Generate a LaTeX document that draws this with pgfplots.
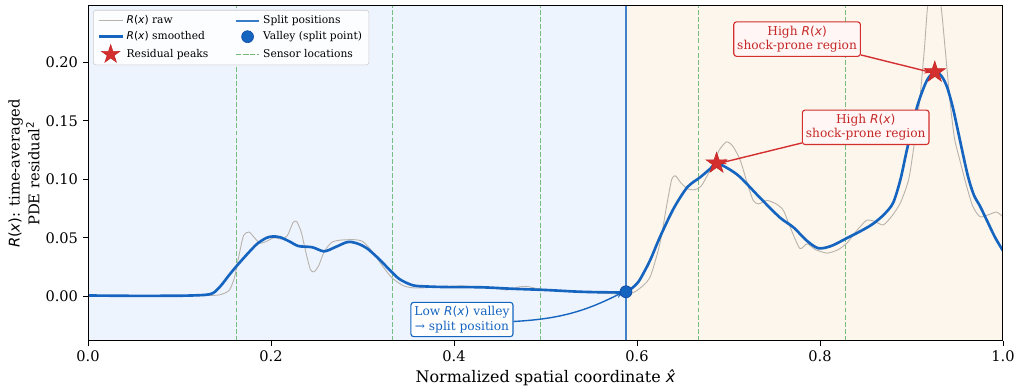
\documentclass[border=0pt]{standalone}
\usepackage{fontspec}
\setmainfont{DejaVu Serif}
\newfontfamily\dvs{DejaVu Sans}
\usepackage{pgfplots}
\pgfplotsset{compat=1.18}
\usetikzlibrary{arrows.meta}
\definecolor{blueS}{HTML}{1565C0}
\definecolor{blueD}{HTML}{0D47A1}
\definecolor{redS}{HTML}{D32F2F}
\definecolor{redT}{HTML}{C62828}
\definecolor{rawgray}{HTML}{B8B2AC}
\definecolor{sensorg}{HTML}{5AAE61}
\definecolor{bgL}{HTML}{EEF4FD}
\definecolor{bgR}{HTML}{FDF6EC}
\definecolor{boxR}{HTML}{FFF6F5}
\newcommand\mi[1]{{\dvs\itshape #1}}
\newcommand\Rx{\mi{R}{\dvs(}\mi{x}{\dvs)}}
\pgfdeclareplotmark{fstar}{%
 \pgfpathmoveto{\pgfpointpolar{90}{\pgfplotmarksize}}%
 \pgfpathlineto{\pgfpointpolar{126}{0.382\pgfplotmarksize}}%
 \pgfpathlineto{\pgfpointpolar{162}{\pgfplotmarksize}}%
 \pgfpathlineto{\pgfpointpolar{198}{0.382\pgfplotmarksize}}%
 \pgfpathlineto{\pgfpointpolar{234}{\pgfplotmarksize}}%
 \pgfpathlineto{\pgfpointpolar{270}{0.382\pgfplotmarksize}}%
 \pgfpathlineto{\pgfpointpolar{306}{\pgfplotmarksize}}%
 \pgfpathlineto{\pgfpointpolar{342}{0.382\pgfplotmarksize}}%
 \pgfpathlineto{\pgfpointpolar{18}{\pgfplotmarksize}}%
 \pgfpathlineto{\pgfpointpolar{54}{0.382\pgfplotmarksize}}%
 \pgfpathclose
 \pgfusepathqfillstroke}
\pgfplotstableread{
x y
0.000 0.0005
0.100 0.0005
0.140 0.0010
0.150 0.0030
0.155 0.0060
0.160 0.0160
0.165 0.0350
0.170 0.0520
0.176 0.0550
0.182 0.0500
0.188 0.0455
0.195 0.0470
0.203 0.0500
0.212 0.0490
0.218 0.0520
0.224 0.0630
0.228 0.0640
0.233 0.0550
0.238 0.0380
0.243 0.0230
0.247 0.0210
0.252 0.0260
0.258 0.0380
0.266 0.0460
0.275 0.0480
0.290 0.0485
0.300 0.0470
0.310 0.0390
0.320 0.0280
0.332 0.0160
0.345 0.0090
0.357 0.0072
0.370 0.0075
0.390 0.0085
0.410 0.0090
0.430 0.0075
0.445 0.0070
0.458 0.0055
0.470 0.0080
0.480 0.0085
0.490 0.0068
0.500 0.0060
0.520 0.0045
0.540 0.0035
0.560 0.0030
0.580 0.0020
0.590 0.0020
0.600 0.0050
0.614 0.0160
0.625 0.0450
0.633 0.0800
0.638 0.1000
0.642 0.1030
0.648 0.0970
0.655 0.0920
0.662 0.0910
0.670 0.0940
0.680 0.1080
0.690 0.1250
0.698 0.1320
0.705 0.1280
0.713 0.1160
0.720 0.0980
0.727 0.0820
0.733 0.0790
0.742 0.0820
0.752 0.0790
0.760 0.0735
0.768 0.0580
0.778 0.0410
0.786 0.0450
0.795 0.0400
0.808 0.0370
0.820 0.0400
0.830 0.0460
0.840 0.0560
0.851 0.0650
0.860 0.0640
0.869 0.0610
0.878 0.0680
0.888 0.0800
0.897 0.1000
0.903 0.1300
0.909 0.1675
0.914 0.2100
0.918 0.2500
0.925 0.2750
0.932 0.2500
0.937 0.2100
0.942 0.1675
0.947 0.1350
0.953 0.1160
0.960 0.0950
0.967 0.0770
0.975 0.0680
0.985 0.0700
0.993 0.0720
1.000 0.0680
}\rawdata
\pgfplotstableread{
x y
0.000 0.0008
0.050 0.0005
0.100 0.0006
0.120 0.0010
0.130 0.0015
0.137 0.0030
0.145 0.0090
0.155 0.0190
0.163 0.0265
0.175 0.0370
0.185 0.0450
0.195 0.0500
0.202 0.0512
0.210 0.0505
0.220 0.0470
0.230 0.0430
0.245 0.0420
0.258 0.0385
0.270 0.0420
0.284 0.0465
0.295 0.0450
0.305 0.0410
0.318 0.0320
0.328 0.0240
0.340 0.0150
0.355 0.0095
0.370 0.0085
0.392 0.0080
0.430 0.0078
0.465 0.0065
0.500 0.0055
0.538 0.0040
0.570 0.0035
0.588 0.0040
0.600 0.0110
0.607 0.0197
0.615 0.0320
0.625 0.0505
0.640 0.0750
0.655 0.0932
0.669 0.1017
0.680 0.1090
0.687 0.1137
0.700 0.1090
0.713 0.1017
0.734 0.0846
0.756 0.0675
0.771 0.0590
0.785 0.0480
0.798 0.0412
0.812 0.0430
0.829 0.0496
0.845 0.0560
0.858 0.0620
0.870 0.0700
0.880 0.0800
0.888 0.1000
0.895 0.1250
0.906 0.1615
0.917 0.1846
0.926 0.1915
0.933 0.1880
0.939 0.1786
0.945 0.1620
0.950 0.1444
0.961 0.1050
0.968 0.0870
0.975 0.0770
0.983 0.0640
0.991 0.0510
1.000 0.0390
}\smoothdata
\begin{document}
\begin{tikzpicture}
\begin{axis}[
 scale only axis, width=658.8pt, height=241.2pt,
 xmin=0, xmax=1, ymin=-0.038, ymax=0.248,
 axis on top,
 xtick={0,0.2,0.4,0.6,0.8,1.0},
 ytick={0,0.05,0.10,0.15,0.20},
 /pgf/number format/assume math mode=true,
 xticklabel style={/pgf/number format/fixed,/pgf/number format/fixed zerofill,/pgf/number format/precision=1},
 yticklabel style={/pgf/number format/fixed,/pgf/number format/fixed zerofill,/pgf/number format/precision=2},
 scaled y ticks=false,
 tick align=outside, tick pos=left,
 major tick length=3.7pt,
 tick style={black, line width=0.6pt},
 axis line style={line width=0.7pt},
 tick label style={font=\fontsize{10.5}{12}\selectfont},
 xlabel={Normalized spatial coordinate \mi{\^{x}}},
 ylabel={\Rx: time-averaged\\PDE residual\textsuperscript{\dvs 2}},
 xlabel style={font=\fontsize{11.5}{13}\selectfont, at={(axis description cs:0.5,-0.11)}, anchor=center},
 ylabel style={font=\fontsize{10.6}{14.2}\selectfont, align=center, at={(axis description cs:-0.070,0.5)}, anchor=center},
 legend columns=2,
 legend style={at={(axis description cs:0.0055,0.988)}, anchor=north west,
   draw=black!20, rounded corners=2pt, fill=white!80!bgL,
   font=\fontsize{7.7}{9}\selectfont, inner xsep=3pt, inner ysep=2pt,
   /tikz/every even column/.append style={column sep=17pt},
   row sep=0pt},
 legend cell align=left,
]
\fill[bgL] (axis cs:0,-0.05) rectangle (axis cs:0.588,0.3);
\fill[bgR] (axis cs:0.588,-0.05) rectangle (axis cs:1,0.3);
\addplot[forget plot, sensorg, opacity=0.8, line width=0.8pt, dash pattern=on 3.5pt off 1.6pt] coordinates {(0.162,-0.05) (0.162,0.3)};
\addplot[forget plot, sensorg, opacity=0.8, line width=0.8pt, dash pattern=on 3.5pt off 1.6pt] coordinates {(0.333,-0.05) (0.333,0.3)};
\addplot[forget plot, sensorg, opacity=0.8, line width=0.8pt, dash pattern=on 3.5pt off 1.6pt] coordinates {(0.495,-0.05) (0.495,0.3)};
\addplot[forget plot, sensorg, opacity=0.8, line width=0.8pt, dash pattern=on 3.5pt off 1.6pt] coordinates {(0.667,-0.05) (0.667,0.3)};
\addplot[forget plot, sensorg, opacity=0.8, line width=0.8pt, dash pattern=on 3.5pt off 1.6pt] coordinates {(0.828,-0.05) (0.828,0.3)};
\addplot[forget plot, blueS, opacity=0.8, line width=1.4pt] coordinates {(0.588,-0.05) (0.588,0.3)};
\addplot[forget plot, rawgray, line width=0.65pt, smooth, tension=0.4] table {\rawdata};
\addplot[forget plot, blueS, line width=1.9pt, smooth, tension=0.5] table {\smoothdata};
\node[draw=redS, fill=boxR, rounded corners=2pt, align=center, text=redT, font=\fontsize{8.8}{10.6}\selectfont, inner xsep=2.5pt, inner ysep=2.8pt, line width=0.8pt] (a1) at (axis cs:0.850,0.1444) {High \Rx\\shock-prone region};
\node[draw=redS, fill=boxR, rounded corners=2pt, align=center, text=redT, font=\fontsize{8.8}{10.6}\selectfont, inner xsep=2.5pt, inner ysep=2.8pt, line width=0.8pt] (a2) at (axis cs:0.775,0.2197) {High \Rx\\shock-prone region};
\node[draw=blueS, fill=white, rounded corners=2pt, align=center, text=blueS, font=\fontsize{8.8}{10.6}\selectfont, inner xsep=2.5pt, inner ysep=2.8pt, line width=0.8pt] (v) at (axis cs:0.4087,-0.0197) {Low \Rx{} valley\\→ split position};
\draw[redS, line width=1pt, -{Stealth[length=6pt,width=4pt]}] (a1) -- (axis cs:0.689,0.1135);
\draw[redS, line width=1pt, -{Stealth[length=6pt,width=4pt]}] (a2) -- (axis cs:0.923,0.191);
\draw[blueS, line width=1pt, -{Stealth[length=6pt,width=4pt]}] (v) to[bend right=12] (axis cs:0.586,0.0042);
\addplot[forget plot, only marks, mark=*, mark size=4.3pt, fill=blueS, draw=blueD, line width=0.5pt] coordinates {(0.588,0.0040)};
\addplot[forget plot, only marks, mark=fstar, mark size=8pt, fill=redS, draw=redT, line width=0.4pt] coordinates {(0.687,0.1137) (0.9255,0.1915)};
\addlegendimage{no markers, rawgray, line width=0.65pt}
\addlegendentry{\Rx{} raw}
\addlegendimage{no markers, blueS!85!white, line width=1.4pt}
\addlegendentry{Split positions}
\addlegendimage{no markers, blueS, line width=1.9pt}
\addlegendentry{\Rx{} smoothed}
\addlegendimage{only marks, mark=*, mark size=4.3pt, fill=blueS, draw=blueD}
\addlegendentry{Valley (split point)}
\addlegendimage{only marks, mark=fstar, mark size=7pt, fill=redS, draw=redT}
\addlegendentry{Residual peaks}
\addlegendimage{no markers, sensorg!85!white, line width=0.8pt, dash pattern=on 3.5pt off 1.6pt}
\addlegendentry{Sensor locations}
\end{axis}
\pgfresetboundingbox
\path[use as bounding box] (-63.4pt,-35.3pt) rectangle (668.2pt,245.5pt);
\end{tikzpicture}
\end{document}
